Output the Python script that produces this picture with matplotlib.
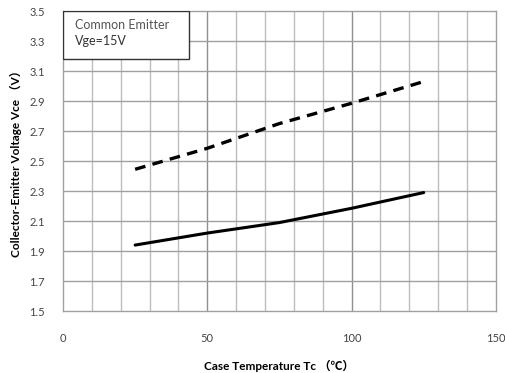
import numpy as np
import matplotlib as mpl
mpl.use('Agg')
import matplotlib.pyplot as plt
from matplotlib.patches import Rectangle

plt.rcParams['font.family'] = ['Lato', 'Noto Sans CJK SC', 'DejaVu Sans']

# case temperature (C) and Vce(sat) readings
temp = [25, 50, 75, 100, 125]
vce_25 = [1.94, 2.02, 2.09, 2.185, 2.29]      # solid curve
vce_125 = [2.445, 2.585, 2.75, 2.885, 3.03]   # dashed curve

x_ticks = [0, 50, 100, 150]
y_ticks = [1.5, 1.7, 1.9, 2.1, 2.3, 2.5, 2.7, 2.9, 3.1, 3.3, 3.5]

fig = plt.figure(figsize=(5.06, 3.73), dpi=100)
ax = fig.add_axes([0.1245, 0.166, 0.8555, 0.8045])

ax.set_xlim(0, 150)
ax.set_ylim(1.5, 3.5)

# grid: light minor lines every 10, darker at 50/100
for x in range(10, 150, 10):
    c = '#8f8f8f' if x % 50 == 0 else '#bdbdbd'
    ax.axvline(x, color=c, lw=1.0, zorder=0)
for y in y_ticks[1:-1]:
    ax.axhline(y, color='#a0a0a0', lw=1.0, zorder=0)

for s in ax.spines.values():
    s.set_color('#a0a0a0')
    s.set_linewidth(1.0)

ax.plot(temp, vce_25, color='black', lw=2.2, solid_capstyle='round')
ax.plot(temp, vce_125, color='black', lw=2.4, dashes=(3.2, 2.2))

ax.set_xticks(x_ticks)
ax.set_yticks(y_ticks)
ax.set_xticklabels([str(v) for v in x_ticks])
ax.set_yticklabels(['%.1f' % v for v in y_ticks])
ax.tick_params(length=0, labelsize=8, colors='#444444')
ax.tick_params(axis='x', pad=16)
ax.tick_params(axis='y', pad=13)

ax.set_xlabel('Case Temperature Tc （℃）', fontsize=8.5, fontweight='bold', labelpad=11)
ax.set_ylabel('Collector-Emitter Voltage Vce （V）', fontsize=8.5, fontweight='bold', labelpad=5)

# annotation box in the upper left corner
ax.add_patch(Rectangle((0, 3.18), 43.5, 0.32, facecolor='white', edgecolor='#333333',
                       lw=1.0, zorder=3))
ax.text(4, 3.45, 'Common Emitter', fontsize=9, color='#555555', va='top', zorder=4)
ax.text(4, 3.34, 'Vge=15V', fontsize=9, color='#333333', va='top', zorder=4)

fig.savefig('out.png', dpi=100)
